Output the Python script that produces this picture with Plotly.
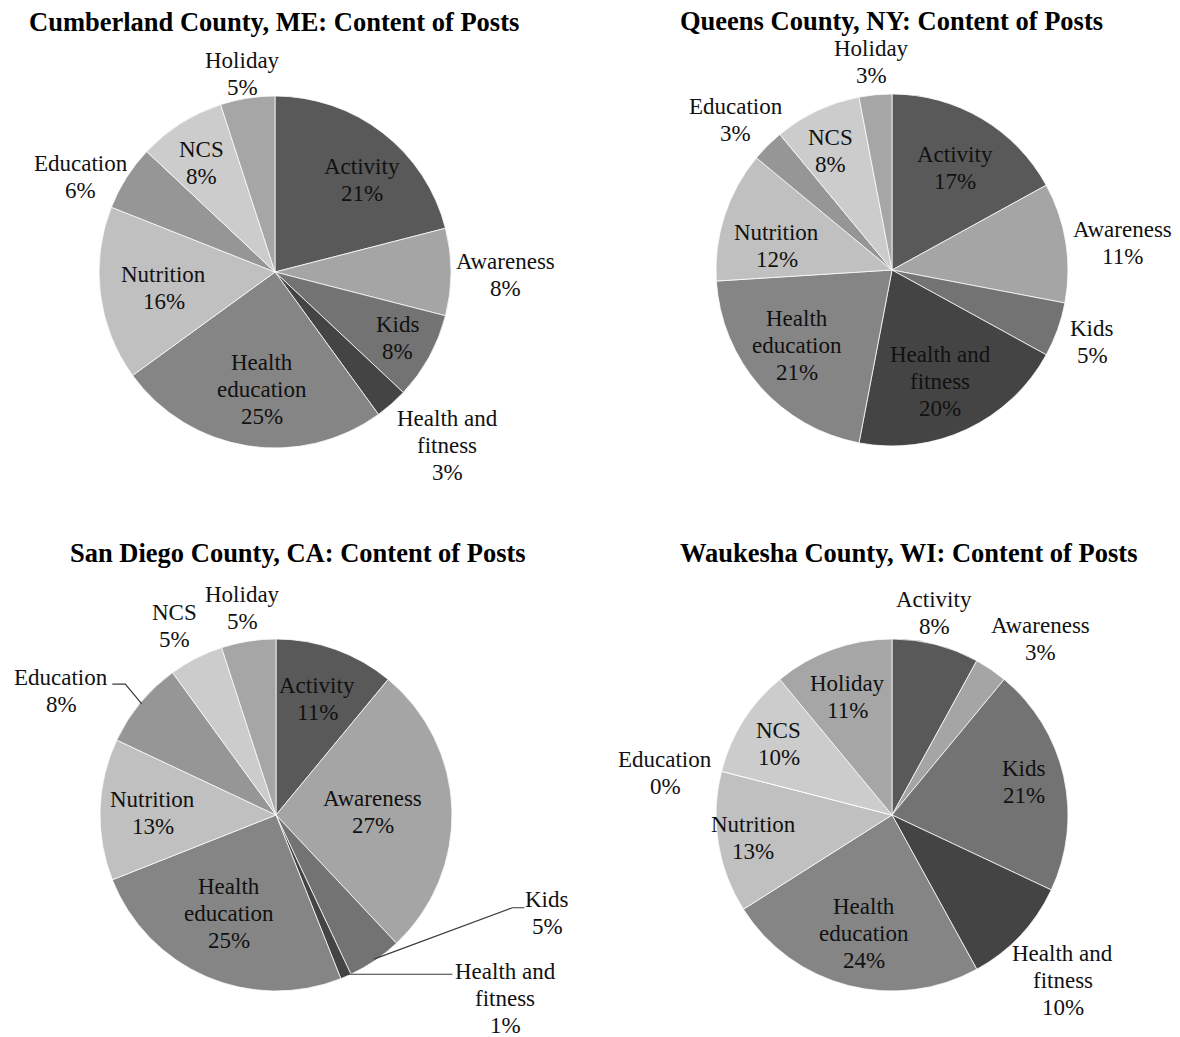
import math
import plotly.graph_objects as go

# page body has an 8px default margin; the figure is sized to fit inside the window
OFF = 8
W, H = 1180 - OFF, 1037 - OFF

# ---------------- data ----------------
categories = ["Activity", "Awareness", "Kids", "Health and fitness", "Health education",
              "Nutrition", "Education", "NCS", "Holiday"]
label_lines = [["Activity"], ["Awareness"], ["Kids"], ["Health and", "fitness"], ["Health", "education"],
               ["Nutrition"], ["Education"], ["NCS"], ["Holiday"]]

cumberland = [21, 8, 8, 3, 25, 16, 6, 8, 5]
queens = [17, 11, 5, 20, 21, 12, 3, 8, 3]
san_diego = [11, 27, 5, 1, 25, 13, 8, 5, 5]
waukesha = [8, 3, 21, 10, 24, 13, 0, 10, 11]

titles = ["Cumberland County, ME: Content of Posts",
          "Queens County, NY: Content of Posts",
          "San Diego County, CA: Content of Posts",
          "Waukesha County, WI: Content of Posts"]

# ---------------- style ----------------
colors = ["#595959", "#a5a5a5", "#737373", "#444444", "#858585",
          "#c0c0c0", "#969696", "#cccccc", "#a6a6a6"]
R = 176
FONT = "Liberation Serif, Times New Roman, serif"
LABEL_SIZE = 23
LINE_STEP = 27
TITLE_SIZE = 26.5

# label placement relative to each slice's bisector: (radial factor, angle offset in degrees)
place_cumberland = [(0.72, 5.8), (1.31, 0.7), (0.79, -0.6), (1.39, -3.4), (0.67, -2.7),
                    (0.64, -1.2), (1.23, -6.3), (0.75, -1.6), (1.14, -0.2)]
place_queens = [(0.68, 1.2), (1.32, 2.4), (1.21, -0.1), (0.69, 1.8), (0.69, 2.7),
                (0.67, -6.1), (1.23, -1.2), (0.76, -2.0), (1.19, -0.35)]
place_san_diego = [(0.70, -0.3), (0.55, 0.3), (1.64, -35.9), (1.67, -27.9), (0.62, 2.0),
                   (0.70, -1.1), (1.41, -9.5), (1.22, -1.3), (1.19, -0.3)]
place_waukesha = [(1.17, -2.6), (1.31, 6.0), (0.77, -1.3), (1.35, 0.8), (0.69, -1.1),
                  (0.80, -0.6), (1.31, -3.8), (0.76, -0.4), (0.72, -1.0)]

# leader lines (slice index -> elbow and end offsets from the label centre, px)
leaders_san_diego = {2: ((-35, -5.5), (-23, -5.5)),
                     3: ((-160, -24.5), (-53, -24.5)),
                     6: ((64, -6.5), (51, -6.5))}

panels = [
    dict(values=cumberland, title=titles[0], center=(275, 272), title_pos=(274, 22),
         place=place_cumberland, leaders={}),
    dict(values=queens, title=titles[1], center=(892, 270), title_pos=(891, 21),
         place=place_queens, leaders={}),
    dict(values=san_diego, title=titles[2], center=(276, 815), title_pos=(298, 553),
         place=place_san_diego, leaders=leaders_san_diego),
    dict(values=waukesha, title=titles[3], center=(892, 815), title_pos=(908, 553),
         place=place_waukesha, leaders={}),
]


def px2paper(x, y):
    return (x - OFF) / W, 1 - (y - OFF) / H


fig = go.Figure()
annotations = []
shapes = []

for p in panels:
    cx, cy = p["center"]
    vals = p["values"]
    x0, y1 = px2paper(cx - R, cy - R)
    x1, y0 = px2paper(cx + R, cy + R)
    fig.add_trace(go.Pie(
        labels=categories, values=vals, sort=False, direction="clockwise", rotation=0,
        marker=dict(colors=colors, line=dict(color="rgba(255,255,255,0.75)", width=1)),
        textinfo="none", hoverinfo="label+percent", showlegend=False,
        domain=dict(x=[x0, x1], y=[y0, y1]),
    ))
    total = float(sum(vals))
    cum = 0.0
    for i, v in enumerate(vals):
        mid = 360.0 * (cum + v / 2.0) / total
        cum += v
        f, dang = p["place"][i]
        a = math.radians(mid + dang)
        lx = cx + f * R * math.sin(a)
        ly = cy - f * R * math.cos(a)
        lines = label_lines[i] + [f"{v}%"]
        n = len(lines)
        for k, t in enumerate(lines):
            yy = ly + (k - (n - 1) / 2.0) * LINE_STEP
            xp, yp = px2paper(lx, yy)
            annotations.append(dict(
                x=xp, y=yp, xref="paper", yref="paper", text=t, showarrow=False,
                xanchor="center", yanchor="middle",
                font=dict(family=FONT, size=LABEL_SIZE, color="#111111"),
            ))
        if i in p["leaders"]:
            (ebx, eby), (enx, eny) = p["leaders"][i]
            am = math.radians(mid)
            sx = cx + 0.99 * R * math.sin(am)
            sy = cy - 0.99 * R * math.cos(am)
            pts = [(sx, sy), (lx + ebx, ly + eby), (lx + enx, ly + eny)]
            pp = [px2paper(*q) for q in pts]
            path = "M {} {} L {} {} L {} {}".format(pp[0][0], pp[0][1], pp[1][0], pp[1][1],
                                                     pp[2][0], pp[2][1])
            shapes.append(dict(type="path", xref="paper", yref="paper", path=path,
                               line=dict(color="#3a3a3a", width=1.2)))
    tx, ty = px2paper(*p["title_pos"])
    annotations.append(dict(
        x=tx, y=ty, xref="paper", yref="paper", text=f"<b>{p['title']}</b>", showarrow=False,
        xanchor="center", yanchor="middle",
        font=dict(family=FONT, size=TITLE_SIZE, color="#000000"),
    ))

fig.update_layout(
    width=W, height=H, margin=dict(l=0, r=0, t=0, b=0),
    paper_bgcolor="white", plot_bgcolor="white",
    annotations=annotations, shapes=shapes,
)

fig.write_html("out.html")
